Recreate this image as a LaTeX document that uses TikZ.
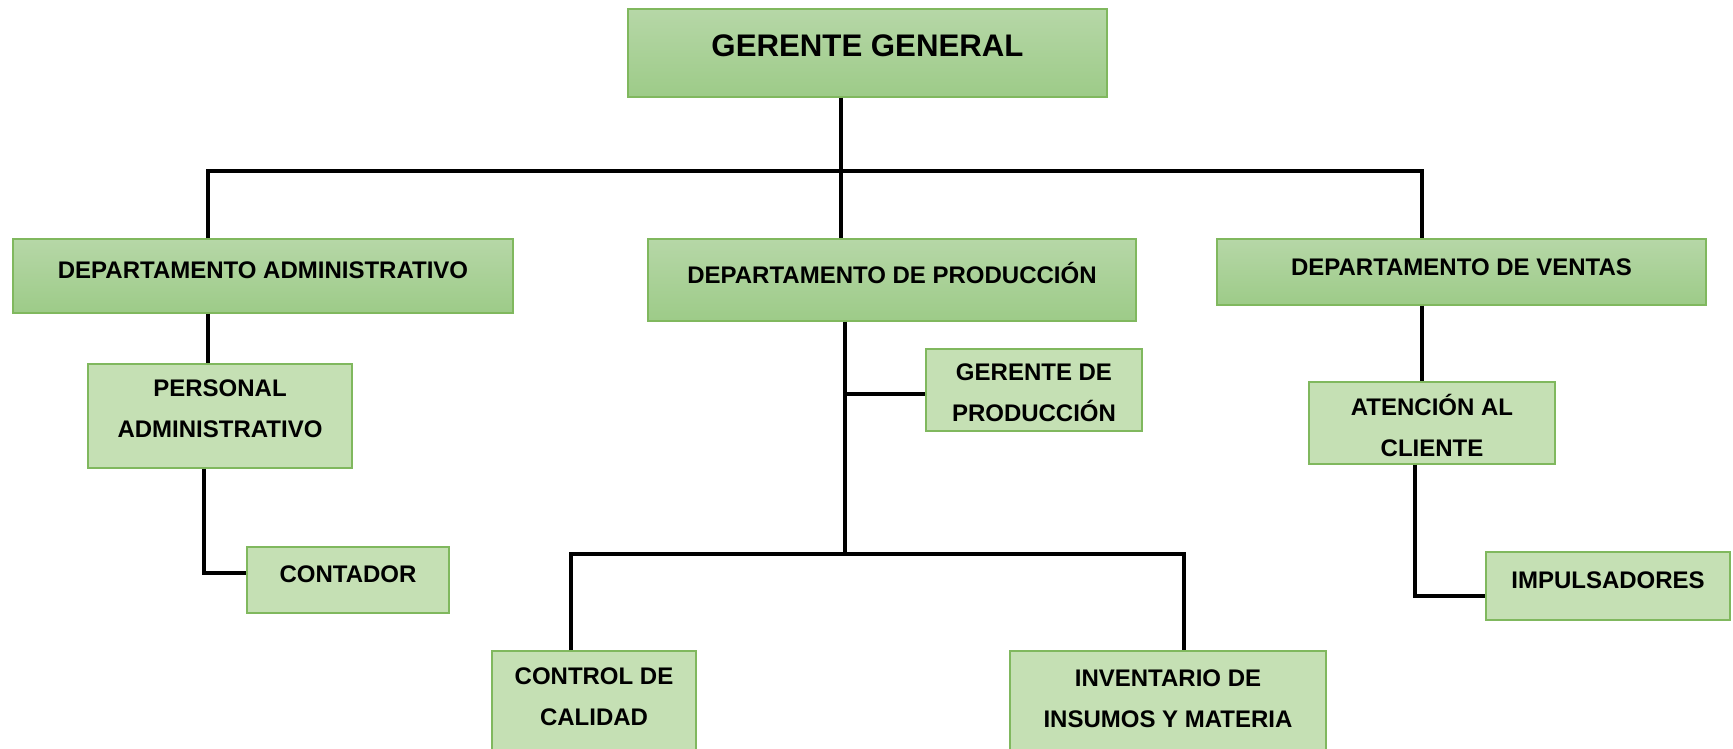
\documentclass[tikz,border=0pt]{standalone}
\usepackage{fontspec}
\setmainfont{Liberation Sans}
\definecolor{boxline}{RGB}{128,184,94}
\definecolor{boxfill}{RGB}{197,224,180}
\definecolor{headtop}{RGB}{182,215,167}
\definecolor{headbot}{RGB}{157,203,136}
\tikzset{
  headbox/.style={draw=boxline, line width=1.2pt, top color=headtop, bottom color=headbot, inner sep=0pt},
  subbox/.style={draw=boxline, line width=1.2pt, fill=boxfill, inner sep=0pt},
  boxtext/.style={font=\bfseries\fontsize{24}{41}\selectfont, align=center, inner sep=0pt, text height=17.2pt, text depth=0pt},
  twolines/.style={text height=58.2pt},
  link/.style={line width=3.5pt}
}
\begin{document}
\begin{tikzpicture}[x=1pt, y=-1pt]
\useasboundingbox (0,0) rectangle (1733,749);
% Boxes
\node[headbox, minimum width=479, minimum height=88] (gg) at (867.5,53) {};
\node[boxtext, font=\bfseries\fontsize{31.2}{36}\selectfont, text height=22.3pt] (gg-t) at (867.5,45) {GERENTE GENERAL};
\node[headbox, minimum width=500, minimum height=74] (da) at (263,276) {};
\node[boxtext] (da-t) at (263,270) {DEPARTAMENTO ADMINISTRATIVO};
\node[headbox, minimum width=488, minimum height=82] (dp) at (892,280) {};
\node[boxtext] (dp-t) at (892,275) {DEPARTAMENTO DE PRODUCCIÓN};
\node[headbox, minimum width=489, minimum height=66] (dv) at (1461.5,272) {};
\node[boxtext] (dv-t) at (1461.5,267) {DEPARTAMENTO DE VENTAS};

\node[subbox, minimum width=264, minimum height=104] (pa) at (220,416) {};
\node[boxtext, twolines] (pa-t) at (220,408.5) {PERSONAL\\ADMINISTRATIVO};
\node[subbox, minimum width=202, minimum height=66] (ct) at (348,580) {};
\node[boxtext] (ct-t) at (348,574) {CONTADOR};
\node[subbox, minimum width=216, minimum height=82] (gp) at (1034,390) {};
\node[boxtext, twolines] (gp-t) at (1034,392.5) {GERENTE DE\\PRODUCCIÓN};
\node[subbox, minimum width=246, minimum height=82] (at) at (1432,423) {};
\node[boxtext, twolines] (at-t) at (1432,427) {ATENCIÓN AL\\CLIENTE};
\node[subbox, minimum width=244, minimum height=68] (im) at (1608,586) {};
\node[boxtext] (im-t) at (1608,580) {IMPULSADORES};
\node[subbox, minimum width=204, minimum height=109] (cc) at (594,705.5) {};
\node[boxtext, twolines] (cc-t) at (594,696) {CONTROL DE\\CALIDAD};
\node[subbox, minimum width=316, minimum height=109] (iv) at (1168,705.5) {};
\node[boxtext, twolines] (iv-t) at (1168,698) {INVENTARIO DE\\INSUMOS Y MATERIA};

% Lines
\coordinate (jl) at (208,171);
\coordinate (jc) at (841,171);
\coordinate (jr) at (1422,171);
\draw[link] (gg.south -| jc) -- (dp.north -| jc);
\draw[link] (da.north -| jl) -- (jl) -- (jr) -- (dv.north -| jr);
\draw[link] (da.south -| jl) -- (pa.north -| jl);
\coordinate (ka) at (204,573);
\draw[link] (pa.south -| ka) -- (ka) -- (ka -| ct.west);
\draw[link] (dv.south -| jr) -- (at.north -| jr);
\coordinate (kb) at (1415,596);
\draw[link] (at.south -| kb) -- (kb) -- (kb -| im.west);
\coordinate (jp) at (845,554);
\coordinate (kg) at (845,394);
\draw[link] (dp.south -| jp) -- (jp);
\draw[link] (kg) -- (kg -| gp.west);
\coordinate (jb1) at (571,554);
\coordinate (jb2) at (1184,554);
\draw[link] (cc.north -| jb1) -- (jb1) -- (jb2) -- (iv.north -| jb2);
\end{tikzpicture}
\end{document}
